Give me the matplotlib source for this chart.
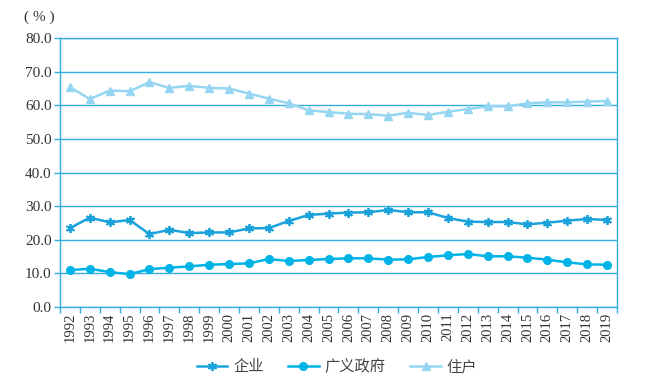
import numpy as np
import matplotlib
matplotlib.use('Agg')
import matplotlib.pyplot as plt

years = list(range(1992, 2020))
qiye = [23.5, 26.6, 25.2, 25.9, 21.7, 23.0, 22.0, 22.2, 22.2, 23.4, 23.5, 25.6, 27.4, 27.8,
        28.1, 28.2, 28.9, 28.2, 28.2, 26.5, 25.4, 25.3, 25.3, 24.6, 25.1, 25.7, 26.2, 25.9]
zhengfu = [11.0, 11.4, 10.4, 9.8, 11.3, 11.7, 12.1, 12.6, 12.8, 13.0, 14.3, 13.7, 14.0, 14.3,
           14.5, 14.5, 14.1, 14.2, 14.9, 15.4, 15.8, 15.1, 15.1, 14.7, 14.1, 13.3, 12.7, 12.6]
zhuhu = [65.4, 61.9, 64.4, 64.2, 66.9, 65.2, 65.8, 65.2, 65.0, 63.5, 62.0, 60.6, 58.5, 58.0,
         57.5, 57.4, 56.9, 57.8, 57.1, 58.1, 58.9, 59.7, 59.7, 60.6, 60.9, 60.9, 61.1, 61.3]
yticks = [0, 10, 20, 30, 40, 50, 60, 70, 80]

grid_c = '#35ade0'
cjk = ['Noto Sans CJK SC', 'DejaVu Sans']
serif = 'Liberation Serif'

fig = plt.figure(figsize=(6.62, 3.81), dpi=100)
ax = fig.add_axes([0.0906, 0.194, 0.8414, 0.706])

x = np.arange(len(years))
ax.plot(x, qiye, color='#1ca2da', lw=1.8, marker=(6, 2, 0), ms=6.5, mew=1.3, label='企业', zorder=3)
ax.plot(x, zhengfu, color='#00b3e6', lw=1.8, marker='o', ms=5.5, label='广义政府', zorder=3)
ax.plot(x, zhuhu, color='#96d6f2', lw=1.8, marker='^', ms=6, label='住户', zorder=3)

ax.set_xlim(-0.5, len(years) - 0.5)
ax.set_ylim(0, 80)
ax.set_yticks(yticks)
ax.set_yticklabels(['%.1f' % v for v in yticks], fontfamily=serif, fontsize=11, color='#333333')
ax.set_xticks(x)
ax.set_xticklabels([str(y) for y in years], rotation=90, fontfamily=serif, fontsize=10.5, color='#333333')
ax.set_xticks(np.arange(-0.5, len(years)), minor=True)
ax.tick_params(axis='x', which='major', length=0, pad=4)
ax.tick_params(axis='x', which='minor', length=4, color=grid_c, width=1, direction='out')
ax.tick_params(axis='y', length=4, color=grid_c, width=1, pad=2)
ax.grid(axis='y', color=grid_c, lw=1)
ax.set_axisbelow(True)
for s in ax.spines.values():
    s.set_color(grid_c)
    s.set_linewidth(1)

fig.text(0.037, 0.955, '( % )', fontfamily=serif, fontsize=11, color='#333333', va='center')

leg = fig.legend(loc='center', bbox_to_anchor=(0.509, 0.037), ncol=3, frameon=False,
                 prop={'family': cjk, 'size': 11}, handlelength=2.0, columnspacing=1.6,
                 handletextpad=0.4)
for t in leg.get_texts():
    t.set_color('#444444')

fig.savefig('out.png', dpi=100)
